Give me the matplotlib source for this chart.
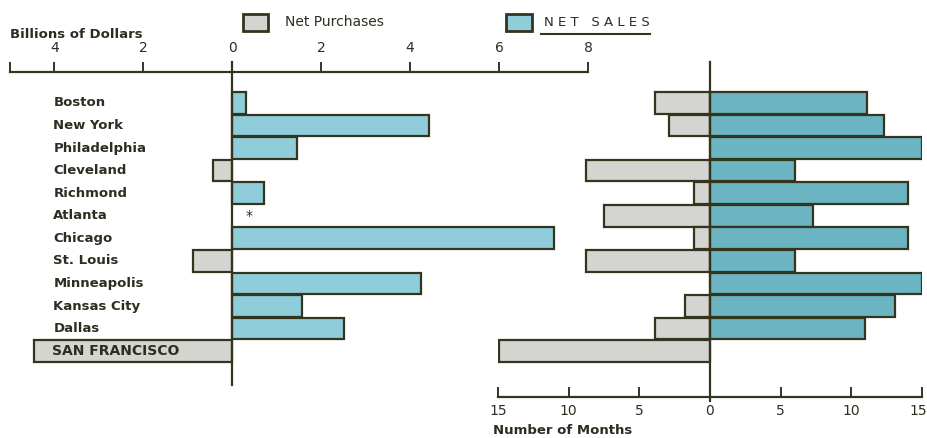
import matplotlib.pyplot as plt
import matplotlib.transforms as mtransforms
from matplotlib.patches import Rectangle
from matplotlib.lines import Line2D

# Federal Reserve districts, top to bottom
districts = ["Boston", "New York", "Philadelphia", "Cleveland", "Richmond", "Atlanta",
             "Chicago", "St. Louis", "Minneapolis", "Kansas City", "Dallas", "SAN FRANCISCO"]

# net amount in billions of dollars (+ = net sales, - = net purchases); Atlanta negligible (*)
billions = [0.3, 4.43, 1.46, -0.43, 0.72, 0.0, 7.24, -0.88, 4.25, 1.57, 2.52, -4.45]

# number of months with net purchases / net sales
months_purchases = [3.9, 2.9, 0, 8.8, 1.1, 7.5, 1.1, 8.8, 0, 1.8, 3.9, 14.9]
months_sales = [11.1, 12.3, 15, 6.0, 14.0, 7.3, 14.0, 6.0, 15, 13.1, 11.0, 0]

dollar_ticks = [-5, -4, -2, 0, 2, 4, 6, 8]
dollar_labels = ["", "4", "2", "0", "2", "4", "6", "8"]
month_ticks = [-15, -10, -5, 0, 5, 10, 15]
month_labels = ["15", "10", "5", "0", "5", "10", "15"]

GREY = "#d4d4d0"
BLUE_L = "#8ecdd9"
BLUE_R = "#6ab5c1"
EDGE = "#35341f"
TXT = "#2e2d22"

W, H = 927, 438


def rect(x0, x1, ytop, ybot):
    return [x0 / W, 1 - ybot / H, (x1 - x0) / W, (ybot - ytop) / H]


fig = plt.figure(figsize=(W / 100, H / 100), dpi=100)
fig.patch.set_facecolor("white")

ypos = list(range(len(districts)))

# ---- left panel: billions of dollars
axL = fig.add_axes(rect(10, 588, 72, 385))
axL.set_xlim(-5, 8)
axL.set_ylim(12.5, -1.37)
colsL = [BLUE_L if v > 0 else GREY for v in billions]
for y, v, c in zip(ypos, billions, colsL):
    if v != 0:
        axL.barh(y, v, height=0.96, color=c, edgecolor=EDGE, linewidth=1.6, zorder=2)
axL.plot([0, 0], [12.5, -1.81], color=EDGE, lw=1.6, clip_on=False, zorder=3)
axL.text(0.3, 5, "*", fontsize=10, color=TXT, ha="left", va="center")

for y, name in zip(ypos, districts):
    if name == "SAN FRANCISCO":
        axL.text(0.072, y, name, transform=axL.get_yaxis_transform(), fontsize=10,
                 fontweight="bold", color=TXT, va="center", zorder=4)
    else:
        axL.text(0.075, y, name, transform=axL.get_yaxis_transform(), fontsize=9.5,
                 fontweight="bold", color=TXT, va="center")

for s in ["left", "right", "bottom"]:
    axL.spines[s].set_visible(False)
axL.spines["top"].set_linewidth(1.6)
axL.spines["top"].set_color(EDGE)
axL.xaxis.tick_top()
axL.set_xticks(dollar_ticks)
axL.set_xticklabels(dollar_labels, fontsize=10, color=TXT)
axL.tick_params(axis="x", direction="out", length=7, width=1.4, color=EDGE, pad=5)
axL.set_yticks([])
axL.patch.set_alpha(0)

# ---- right panel: number of months
axR = fig.add_axes(rect(498, 922, 62, 397))
axR.set_xlim(-15, 15)
axR.set_ylim(13.04, -1.82)
for y, p, s in zip(ypos, months_purchases, months_sales):
    if p > 0:
        axR.barh(y, -p, height=0.96, color=GREY, edgecolor=EDGE, linewidth=1.6, zorder=2)
    if s > 0:
        axR.barh(y, s, height=0.96, color=BLUE_R, edgecolor=EDGE, linewidth=1.6, zorder=2)
axR.plot([0, 0], [13.2, -1.82], color=EDGE, lw=1.6, clip_on=False, zorder=3)

for s in ["left", "right", "top"]:
    axR.spines[s].set_visible(False)
axR.spines["bottom"].set_linewidth(1.6)
axR.spines["bottom"].set_color(EDGE)
axR.set_xticks(month_ticks)
axR.set_xticklabels(month_labels, fontsize=10, color=TXT)
axR.tick_params(axis="x", direction="in", length=7, width=1.4, color=EDGE, pad=5)
axR.set_yticks([])
axR.patch.set_alpha(0)
# keep the last "15" inside the canvas, as in the original
last = axR.get_xticklabels()[-1]
last.set_transform(last.get_transform() +
                   mtransforms.ScaledTranslation(-4 / 100, 0, fig.dpi_scale_trans))

# ---- titles and legend
fig.text(10 / W, 1 - 35 / H, "Billions of Dollars", fontsize=9.5, fontweight="bold",
         color=TXT, va="center", ha="left")
fig.text(493 / W, 1 - 431 / H, "Number of Months", fontsize=9.5, fontweight="bold",
         color=TXT, va="center", ha="left")

fig.add_artist(Rectangle((243 / W, 1 - 31 / H), 25 / W, 17 / H, transform=fig.transFigure,
                         facecolor=GREY, edgecolor=EDGE, linewidth=2))
fig.text(285 / W, 1 - 22 / H, "Net Purchases", fontsize=10, color=TXT, va="center")
fig.add_artist(Rectangle((506 / W, 1 - 31 / H), 26 / W, 17 / H, transform=fig.transFigure,
                         facecolor=BLUE_L, edgecolor=EDGE, linewidth=2))
fig.text(544 / W, 1 - 22 / H, "N E T   S A L E S", fontsize=9.5, color=TXT, va="center")
fig.add_artist(Line2D([541 / W, 650 / W], [1 - 34 / H, 1 - 34 / H], transform=fig.transFigure,
                      color=EDGE, lw=1.5))

fig.savefig("out.png", dpi=100)
